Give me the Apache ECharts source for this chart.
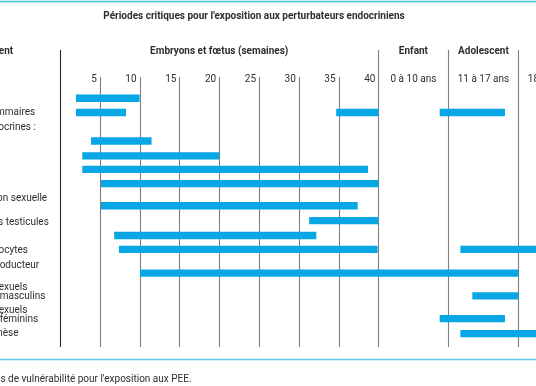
<!DOCTYPE html>
<html>
<head>
<meta charset="utf-8">
<script src="https://cdn.jsdelivr.net/npm/echarts@6/dist/echarts.min.js"></script>
<style>html,body{margin:0;padding:0;background:#fff}#c{width:536px;height:386px}</style>
</head>
<body>
<div id="c"></div>
<script>
// ---- data ----
const titleText = "Périodes critiques pour l'exposition aux perturbateurs endocriniens";
const captionText = "Fenêtres de vulnérabilité pour l'exposition aux PEE.";
const stubHeader = "Développement";
const weekTicks = [5, 10, 15, 20, 25, 30, 35, 40];
const periodBounds = [0, 40, 48.8, 57.6, 66.4];          // axis units (weeks, then period columns)
const periodTitles = ["Embryons et fœtus (semaines)", "Enfant", "Adolescent", "Adulte"];
const periodRanges = ["", "0 à 10 ans", "11 à 17 ans", "18 à 25 ans"];
const rowLabels = ["Glandes mammaires", "Glandes endocrines :", "Différenciation sexuelle",
  "Descente des testicules", "Réserve d'ovocytes", "Appareil reproducteur",
  "Caractères sexuels\nsecondaires masculins", "Caractères sexuels\nsecondaires féminins", "Spermatogenèse"];
const rowLabelPos = [1.03, 2.02, 7.02, 8.73, 10.73, 11.79, 13.64, 15.27, 16.55];
const spanRow   = [0, 1, 1, 1, 3, 4.05, 5, 6, 7.56, 8.61, 9.65, 10.63, 10.63, 12.3, 13.9, 15.5, 16.56];
const spanStart = [2, 2, 34.7, 47.7, 3.9, 2.8, 2.8, 5.15, 5.15, 31.3, 6.8, 7.4, 50.3, 10.05, 51.8, 47.7, 50.3];
const spanEnd   = [10, 8.3, 40, 55.9, 11.5, 20, 38.7, 40, 37.4, 40, 32.2, 39.9, 70, 57.6, 57.6, 55.9, 70];

// ---- layout constants (row units on the y axis) ----
const headerRow = -3.26, rangeRow = -1.29, minorTopRow = -1.5;
const FONT = "Roboto";
const FS = 10;
const TXT = "#2e2e2e";
const STUB_X = 117; // distance of the stub column text left edge from plot left

const chart = echarts.init(document.getElementById('c'), null, {renderer: 'canvas'});

const lineData = [];
weekTicks.forEach(w => { if (w !== 40) lineData.push([w, 0]); });
periodBounds.forEach((b, i) => lineData.push([b, i === 0 ? 2 : 1]));

const barData = spanRow.map((r, i) => [r, spanStart[i], spanEnd[i]]);
const tickData = weekTicks.map((w, i) => [w, i]);
const periodData = periodTitles.map((t, i) => [(periodBounds[i] + periodBounds[i + 1]) / 2, i]);
const labelData = rowLabels.map((t, i) => [rowLabelPos[i], i]);

function txt(x, y, text, align, weight) {
  return {type: 'text', x: x, y: y, silent: true,
    style: {text: text, fill: TXT, font: (weight || 'normal') + ' ' + FS + 'px ' + FONT,
      align: align, textAlign: align, verticalAlign: 'middle', textVerticalAlign: 'middle', lineHeight: 8.8}};
}

const option = {
  animation: false,
  backgroundColor: '#ffffff',
  grid: {left: 60, right: 0, top: 50, bottom: 39},
  xAxis: {type: 'value', min: 0, max: 59.8, show: false},
  yAxis: {type: 'value', min: -3.4, max: 17.5, inverse: true, show: false},
  graphic: [
    {type: 'line', shape: {x1: 0, y1: 1.5, x2: 536, y2: 1.5}, style: {stroke: '#3fbfd8', lineWidth: 1.6}},
    {type: 'line', shape: {x1: 0, y1: 359.5, x2: 536, y2: 359.5}, style: {stroke: '#5cc8e2', lineWidth: 1.4}},
    {type: 'text', x: 254, y: 16, style: {text: titleText, font: 'bold ' + FS + 'px ' + FONT, fill: TXT,
      align: 'center', textAlign: 'center', verticalAlign: 'middle', textVerticalAlign: 'middle'}},
    {type: 'text', x: -33, y: 379, style: {text: captionText, font: FS + 'px ' + FONT, fill: TXT,
      align: 'left', textAlign: 'left', verticalAlign: 'middle', textVerticalAlign: 'middle'}}
  ],
  series: [
    { // grid lines
      type: 'custom', data: lineData, z: 1,
      renderItem: function (params, api) {
        const cs = params.coordSys;
        const kind = api.value(1);
        const px = Math.round(api.coord([api.value(0), 0])[0]) + 0.5;
        const top = kind === 0 ? api.coord([api.value(0), minorTopRow])[1] : cs.y;
        return {type: 'line', shape: {x1: px, y1: top, x2: px, y2: cs.y + cs.height},
          style: {stroke: kind === 2 ? '#2b2b2b' : '#7f7f7f', lineWidth: 1.1}};
      }
    },
    { // bars
      type: 'custom', data: barData, z: 2,
      renderItem: function (params, api) {
        const cs = params.coordSys;
        const r = api.value(0);
        const p1 = api.coord([api.value(1), r]);
        const p2 = api.coord([api.value(2), r]);
        const h = api.size([0, 0.52])[1];
        const rect = echarts.graphic.clipRectByRect(
          {x: p1[0], y: p1[1] - h / 2, width: p2[0] - p1[0], height: h},
          {x: cs.x, y: cs.y, width: cs.width, height: cs.height});
        return rect && {type: 'rect', shape: rect, style: {fill: '#07a6e4'}};
      }
    },
    { // week tick labels
      type: 'custom', data: tickData, z: 3,
      renderItem: function (params, api) {
        const p = api.coord([api.value(0), rangeRow]);
        return txt(p[0] - 3, p[1], String(weekTicks[api.value(1)]), 'right');
      }
    },
    { // period headers and ranges
      type: 'custom', data: periodData, z: 3,
      renderItem: function (params, api) {
        const i = api.value(1);
        const ph = api.coord([api.value(0), headerRow]);
        const pr = api.coord([api.value(0), rangeRow]);
        const children = [txt(ph[0], ph[1], periodTitles[i], 'center', 'bold')];
        if (periodRanges[i]) children.push(txt(pr[0], pr[1], periodRanges[i], 'center'));
        if (i === 0) children.push(txt(params.coordSys.x - STUB_X, ph[1], stubHeader, 'left', 'bold'));
        return {type: 'group', children: children};
      }
    },
    { // row labels
      type: 'custom', data: labelData, z: 3,
      renderItem: function (params, api) {
        const p = api.coord([0, api.value(0)]);
        return txt(params.coordSys.x - STUB_X, p[1], rowLabels[api.value(1)], 'left');
      }
    }
  ]
};
chart.setOption(option);
</script>
</body>
</html>
